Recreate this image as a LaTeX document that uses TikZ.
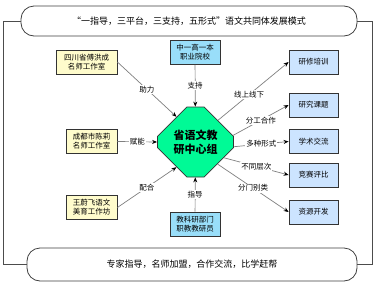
\documentclass[tikz,border=0pt]{standalone}
\usepackage{fontspec}
\setmainfont{Noto Sans CJK SC}
\usetikzlibrary{positioning,arrows.meta,shapes.misc}
\definecolor{taskblue}{RGB}{204,228,255}
\definecolor{hubgreen}{RGB}{0,250,150}
\tikzset{
  banner/.style={draw=black!75,line width=0.8pt,rounded corners=13pt,fill=white,
            inner sep=0pt,font=\fontsize{9}{11}\selectfont},
  box/.style={draw=black!80,line width=0.8pt,inner sep=0pt,align=center,
            minimum height=24pt,font=\fontsize{7.5}{9}\selectfont},
  studio/.style={box,fill=yellow!20},
  school/.style={box,fill=cyan!40,minimum width=50pt},
  task/.style={box,fill=taskblue,minimum width=49pt},
  hub/.style={chamfered rectangle,chamfered rectangle xsep=18pt,chamfered rectangle ysep=17pt,
            draw=black!80,line width=0.8pt,fill=hubgreen,minimum width=76pt,minimum height=70pt,
            inner sep=0pt,align=center,font=\fontsize{11}{14}\selectfont\bfseries},
  link/.style={-{Stealth[black,length=5pt,width=4pt]},gray,line width=0.7pt},
  tag/.style={fill=white,text=black,inner sep=1pt,font=\fontsize{7.5}{9}\selectfont},
  frame/.style={draw=black!70,line width=0.8pt},
}
\begin{document}
\begin{tikzpicture}[x=1pt,y=-1pt]
  \fill[white] (0,0) rectangle (378,287);
  \useasboundingbox (0,0) rectangle (378,287);
  % title and footer banners
  \node[banner,minimum width=336pt,minimum height=30pt] (title) at (189,21)
    {“一指导，三平台，三支持，五形式”语文共同体发展模式};
  \node[banner,minimum width=330pt,minimum height=33pt] (foot) at (192,264.5)
    {专家指导，名师加盟，合作交流，比学赶帮};
  % outer frame
  \draw[frame] (title.west) -- ++(-17,0) |- (foot.west);
  \draw[frame] (title.east) -- ++(15,0) |- (foot.east);
  % centre
  \node[hub] (hub) at (195.5,142) {省语文教\\研中心组};
  % studios on the left
  \node[studio,minimum width=61pt] (s1) at (86.5,62)    {四川省傅洪成\\名师工作室};
  \node[studio,minimum width=51pt] (s2) at (91.5,141.5) {成都市陈莉\\名师工作室};
  \node[studio,minimum width=51pt] (s3) at (91.5,207.5) {王蔚飞语文\\美育工作坊};
  % schools above and below
  \node[school] (sc1) at (195,52.5) {中一高一本\\职业院校};
  \node[school] (sc2) at (195,224)  {教科研部门\\职教教研员};
  % tasks on the right
  \node[task] (t1) at (313.5,62)    {研修培训};
  \node[task] (t2) at (313.5,105)   {研究课题};
  \node[task] (t3) at (313.5,141.5) {学术交流};
  \node[task] (t4) at (313.5,175)   {竞赛评比};
  \node[task] (t5) at (313.5,212)   {资源开发};
  % inputs
  \draw[link] (s1.east) -- node[tag]{助力} (hub.127);
  \draw[link] (s2.east) -- node[tag]{赋能} (hub.west);
  \draw[link] (s3.east) -- node[tag]{配合} (hub.233);
  \draw[link] (sc1) -- node[tag]{支持} (hub);
  \draw[link] (sc2) -- node[tag]{指导} (hub);
  % outputs
  \draw[link] (hub.44)  -- node[tag,pos=0.44]{线上线下} (t1.west);
  \draw[link] (hub.10)  -- node[tag]{分工合作} (t2.west);
  \draw[link] (hub.-7)  -- node[tag]{多种形式} (t3.west);
  \draw[link] (hub.-29) -- node[tag]{不同层次} (t4.west);
  \draw[link] (hub.-45) -- node[tag]{分门别类} (t5.west);
\end{tikzpicture}
\end{document}
